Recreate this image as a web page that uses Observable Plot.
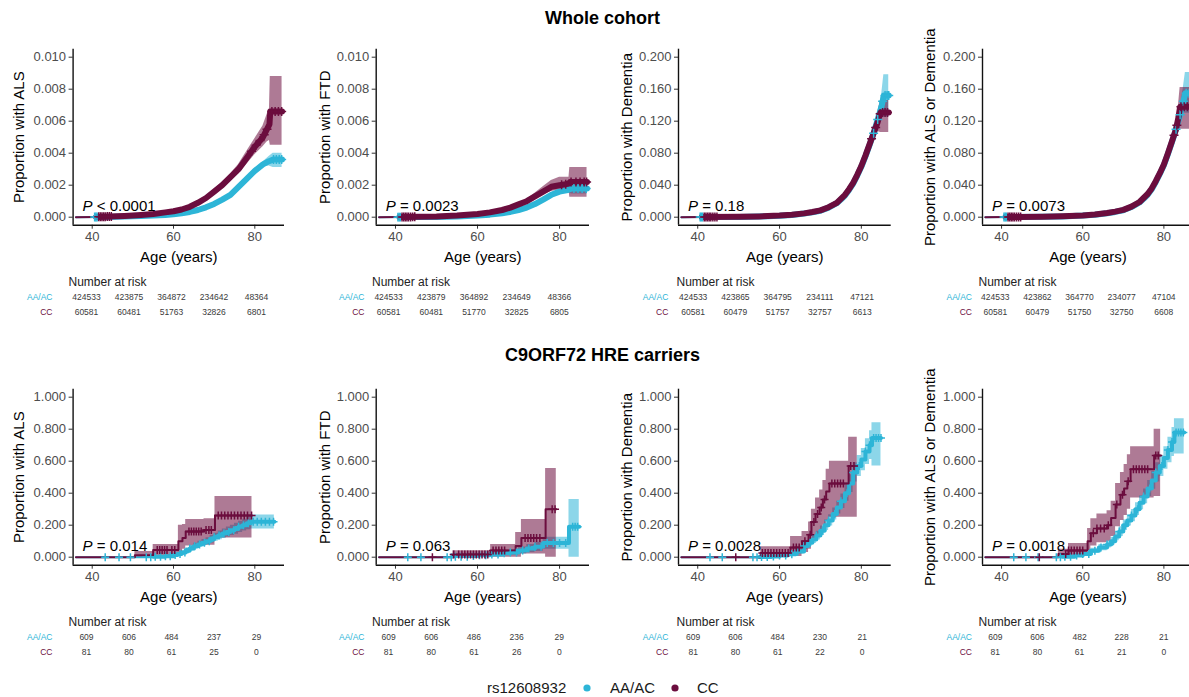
<!DOCTYPE html>
<html><head><meta charset="utf-8">
<script src="https://cdn.jsdelivr.net/npm/d3@7"></script>
<script src="https://cdn.jsdelivr.net/npm/@observablehq/plot@0.6"></script>
<style>
html,body{margin:0;padding:0;background:#fff;}
body{width:1189px;height:697px;overflow:hidden;font-family:"Liberation Sans",Arial,Helvetica,sans-serif;}
#root{position:relative;width:1189px;height:697px;overflow:hidden;}
.abs{position:absolute;}
.panel{position:absolute;width:300px;}
.panel svg{max-width:none !important;}
.title{position:absolute;left:8px;width:1189px;text-align:center;font-weight:bold;font-size:18px;line-height:22px;color:#000;}
</style></head>
<body><div id="root"></div>
<script>
// ---------- DATA ----------
const groups = ["AA/AC", "CC"];
const riskAges = [40, 50, 60, 70, 80];
const rowTitles = ["Whole cohort", "C9ORF72 HRE carriers"];
const yLabels = ["Proportion with ALS", "Proportion with FTD", "Proportion with Dementia", "Proportion with ALS or Dementia"];
const xTicks = [40, 60, 80];
const yTicksSmall = [0, 0.002, 0.004, 0.006, 0.008, 0.010];
const yTicksDem = [0, 0.04, 0.08, 0.12, 0.16, 0.20];
const yTicksCarrier = [0, 0.2, 0.4, 0.6, 0.8, 1.0];
const pValues = ["< 0.0001", "= 0.0023", "= 0.18", "= 0.0073", "= 0.014", "= 0.063", "= 0.0028", "= 0.0018"];

// rows: [age, estimate, lower CI, upper CI]
const wALS_AA = [[36,0,0,0],[41,0.00001,0,0.00002],[44,0.00002,0.00001,0.00003],[48,0.00004,0.00002,0.00006],[52,0.00007,0.00005,0.00009],[55,0.0001,0.00008,0.00012],[58,0.00014,0.00011,0.00017],[60,0.00018,0.00015,0.00021],[62,0.00025,0.00021,0.00029],[64,0.00033,0.00029,0.00037],[66,0.00045,0.0004,0.0005],[68,0.00062,0.00056,0.00068],[70,0.00083,0.00076,0.0009],[72,0.0011,0.00102,0.00118],[74,0.0014,0.0013,0.0015],[76,0.0019,0.0018,0.002],[78,0.0024,0.0023,0.0025],[80,0.0029,0.00278,0.00302],[82,0.0033,0.00315,0.00345],[83.5,0.0035,0.0032,0.0038],[84.5,0.0036,0.0031,0.004],[86.7,0.0036,0.0031,0.004]];
const wALS_CC = [[36,0,0,0],[41,0.00002,0,0.00004],[44,0.00004,0.00001,0.00007],[48,0.00008,0.00004,0.00012],[52,0.00014,0.00009,0.00019],[55,0.0002,0.00014,0.00026],[58,0.0003,0.00023,0.00037],[60,0.00037,0.0003,0.00045],[62,0.00048,0.0004,0.00056],[64,0.00065,0.00055,0.00075],[66,0.0009,0.0008,0.001],[68,0.0012,0.0011,0.0013],[70,0.0016,0.00145,0.00175],[72,0.002,0.0018,0.0022],[74,0.0025,0.0023,0.0027],[76,0.003,0.0027,0.0033],[78,0.0037,0.0033,0.0041],[80,0.0044,0.0039,0.0049],[82,0.005,0.0044,0.0057],[83,0.0055,0.0047,0.0064],[83.6,0.0058,0.0048,0.0068],[83.8,0.0066,0.0045,0.0088],[86.7,0.0066,0.0045,0.0088]];
const wFTD_AA = [[36,0,0,0],[41,0.000005,0,0.00001],[50,0.00002,0.00001,0.00003],[55,0.00005,0.00003,0.00007],[60,0.0001,0.00008,0.00012],[63,0.00016,0.00013,0.00019],[66,0.00025,0.00021,0.00029],[68,0.00033,0.00029,0.00037],[70,0.00045,0.0004,0.0005],[72,0.0006,0.00054,0.00066],[74,0.00082,0.00075,0.00089],[76,0.0011,0.001,0.0012],[78,0.0014,0.0013,0.0015],[80,0.0016,0.00148,0.00172],[82,0.0017,0.00152,0.00188],[83,0.0018,0.00145,0.0021],[86.7,0.0018,0.00145,0.0021]];
const wFTD_CC = [[36,0,0,0],[41,0.00001,0,0.00002],[50,0.00004,0.00001,0.00007],[55,0.0001,0.00006,0.00014],[60,0.0002,0.00014,0.00026],[63,0.0003,0.00023,0.00037],[66,0.00045,0.00037,0.00053],[68,0.0006,0.0005,0.0007],[70,0.0008,0.0007,0.0009],[72,0.001,0.0009,0.0011],[74,0.0013,0.0011,0.0015],[76,0.0016,0.0014,0.0019],[78,0.0019,0.0016,0.0023],[80,0.002,0.0017,0.0025],[82.3,0.0021,0.0017,0.0025],[82.5,0.0022,0.00125,0.0031],[86.7,0.0022,0.00125,0.0031]];
const wDEM_AA = [[36,0,0,0],[41,0.0002,0.00015,0.00025],[50,0.0004,0.0003,0.0005],[55,0.0009,0.0008,0.001],[60,0.0018,0.0017,0.0019],[63,0.0028,0.0027,0.0029],[66,0.0045,0.0043,0.0047],[68,0.006,0.0058,0.0062],[70,0.008,0.0078,0.0082],[72,0.012,0.0117,0.0123],[74,0.0175,0.0171,0.0179],[75,0.022,0.0215,0.0225],[76,0.027,0.0264,0.0276],[77,0.034,0.0333,0.0347],[78,0.042,0.0411,0.0429],[79,0.052,0.0508,0.0532],[80,0.063,0.0615,0.0645],[81,0.076,0.074,0.078],[82,0.09,0.087,0.093],[83,0.105,0.101,0.109],[84,0.122,0.115,0.129],[85,0.14,0.127,0.155],[85.5,0.152,0.125,0.178],[86.7,0.152,0.125,0.178]];
const wDEM_CC = [[36,0,0,0],[41,0.0002,0.0001,0.0003],[50,0.0005,0.0003,0.0007],[55,0.001,0.0007,0.0013],[60,0.002,0.0016,0.0024],[63,0.003,0.0026,0.0034],[66,0.0048,0.0043,0.0053],[68,0.0065,0.006,0.007],[70,0.0085,0.008,0.009],[72,0.0125,0.0118,0.0132],[74,0.018,0.017,0.019],[75,0.023,0.0218,0.0242],[76,0.028,0.0265,0.0295],[77,0.035,0.033,0.037],[78,0.043,0.0405,0.0455],[79,0.053,0.05,0.056],[80,0.064,0.06,0.068],[81,0.077,0.072,0.082],[82,0.091,0.085,0.097],[83,0.105,0.097,0.113],[84,0.119,0.107,0.131],[84.7,0.131,0.106,0.146],[86.7,0.131,0.106,0.146]];
const wAD_AA = [[36,0,0,0],[41,0.0002,0.00015,0.00025],[50,0.0005,0.0004,0.0006],[55,0.001,0.0009,0.0011],[60,0.002,0.0019,0.0021],[63,0.0031,0.003,0.0032],[66,0.0049,0.0047,0.0051],[68,0.0066,0.0064,0.0068],[70,0.0087,0.0085,0.0089],[72,0.0127,0.0124,0.013],[74,0.0185,0.0181,0.0189],[75,0.023,0.0225,0.0235],[76,0.028,0.0274,0.0286],[77,0.035,0.0343,0.0357],[78,0.044,0.0431,0.0449],[79,0.054,0.0528,0.0552],[80,0.065,0.0635,0.0665],[81,0.079,0.077,0.081],[82,0.094,0.091,0.097],[83,0.11,0.106,0.114],[84,0.128,0.121,0.135],[84.8,0.145,0.13,0.162],[85.3,0.155,0.13,0.181],[86.7,0.155,0.13,0.181]];
const wAD_CC = [[36,0,0,0],[41,0.0002,0.0001,0.0003],[50,0.0006,0.0004,0.0008],[55,0.0012,0.0009,0.0015],[60,0.0022,0.0018,0.0026],[63,0.0033,0.0029,0.0037],[66,0.0052,0.0047,0.0057],[68,0.007,0.0065,0.0075],[70,0.0092,0.0087,0.0097],[72,0.0132,0.0125,0.0139],[74,0.019,0.018,0.02],[75,0.024,0.0228,0.0252],[76,0.029,0.0275,0.0305],[77,0.036,0.034,0.038],[78,0.045,0.0425,0.0475],[79,0.055,0.052,0.058],[80,0.066,0.062,0.07],[81,0.08,0.075,0.085],[82,0.095,0.089,0.101],[83,0.11,0.102,0.118],[83.6,0.125,0.112,0.14],[84,0.138,0.11,0.162],[86.7,0.138,0.11,0.162]];

const cALS_AA = [[36,0,0,0],[55,0.003,0,0.008],[58,0.006,0,0.013],[60,0.013,0.004,0.022],[61,0.02,0.009,0.031],[62,0.03,0.017,0.043],[63,0.042,0.027,0.057],[64,0.055,0.038,0.072],[65,0.068,0.049,0.087],[66,0.08,0.06,0.1],[67,0.09,0.069,0.111],[68,0.1,0.078,0.122],[69,0.112,0.088,0.136],[70,0.124,0.099,0.149],[71,0.136,0.109,0.163],[72,0.148,0.119,0.177],[73,0.158,0.127,0.189],[74,0.168,0.136,0.2],[75,0.178,0.144,0.212],[76,0.19,0.155,0.225],[77,0.2,0.163,0.237],[78,0.212,0.172,0.252],[79,0.222,0.176,0.264],[84.8,0.222,0.176,0.264]];
const cALS_CC = [[36,0,0,0],[50.5,0.012,0,0.036],[55,0.045,0.006,0.08],[61.2,0.1,0.03,0.2],[62.2,0.12,0.05,0.205],[63,0.16,0.07,0.235],[67.5,0.17,0.075,0.24],[70.2,0.26,0.12,0.38],[79.3,0.26,0.12,0.38]];
const cFTD_AA = [[36,0,0,0],[54,0.003,0,0.008],[58,0.008,0,0.017],[60,0.012,0.002,0.022],[63,0.017,0.005,0.029],[66,0.025,0.01,0.04],[68,0.03,0.013,0.047],[70,0.042,0.02,0.064],[72,0.055,0.03,0.08],[74,0.065,0.036,0.094],[76,0.088,0.05,0.125],[82.3,0.19,0,0.36],[84.8,0.19,0,0.36]];
const cFTD_CC = [[36,0,0,0],[54,0.017,0,0.04],[63.2,0.042,0,0.08],[69.3,0.07,0,0.155],[70.7,0.12,0.02,0.235],[76.6,0.3,0,0.555],[79.2,0.3,0,0.555]];
const cDEM_AA = [[36,0,0,0],[55,0.002,0,0.006],[58,0.005,0,0.011],[60,0.01,0.003,0.017],[62,0.018,0.008,0.028],[64,0.035,0.02,0.05],[66,0.07,0.05,0.09],[67,0.09,0.068,0.112],[68,0.11,0.085,0.135],[69,0.135,0.108,0.162],[70,0.165,0.135,0.195],[71,0.2,0.167,0.233],[72,0.23,0.195,0.265],[73,0.27,0.232,0.308],[74,0.31,0.27,0.35],[75,0.35,0.305,0.395],[76,0.4,0.35,0.45],[77,0.46,0.405,0.515],[78,0.53,0.47,0.59],[79,0.57,0.505,0.635],[80,0.61,0.54,0.68],[81,0.66,0.58,0.74],[82,0.7,0.61,0.79],[82.6,0.745,0.57,0.84],[84.8,0.745,0.57,0.84]];
const cDEM_CC = [[36,0,0,0],[55.4,0.027,0,0.065],[62.7,0.06,0.005,0.13],[65.5,0.1,0.03,0.16],[67.1,0.14,0.05,0.22],[67.8,0.22,0.1,0.3],[68.8,0.27,0.13,0.37],[69.8,0.31,0.16,0.42],[70.6,0.36,0.2,0.48],[71.4,0.41,0.23,0.55],[72.2,0.46,0.25,0.6],[76.9,0.57,0.25,0.75],[79,0.57,0.25,0.75]];
const cAD_AA = [[36,0,0,0],[55,0.003,0,0.008],[58,0.01,0.002,0.018],[60,0.02,0.008,0.032],[62,0.04,0.024,0.056],[64,0.06,0.041,0.079],[66,0.08,0.058,0.102],[67,0.1,0.076,0.124],[68,0.13,0.103,0.157],[69,0.16,0.13,0.19],[70,0.2,0.167,0.233],[71,0.23,0.195,0.265],[72,0.26,0.222,0.298],[73,0.3,0.26,0.34],[74,0.34,0.297,0.383],[75,0.38,0.334,0.426],[76,0.43,0.38,0.48],[77,0.48,0.425,0.535],[78,0.53,0.47,0.59],[79,0.57,0.505,0.635],[80,0.62,0.55,0.69],[81,0.67,0.59,0.75],[82,0.72,0.63,0.81],[82.6,0.78,0.645,0.865],[85,0.78,0.645,0.865]];
const cAD_CC = [[36,0,0,0],[54,0.02,0,0.05],[56.5,0.042,0.005,0.085],[61.2,0.1,0.04,0.18],[62,0.15,0.07,0.24],[63.5,0.18,0.09,0.27],[66,0.2,0.1,0.29],[67,0.245,0.13,0.35],[68.1,0.33,0.19,0.46],[69.3,0.39,0.23,0.53],[70.2,0.43,0.26,0.58],[71,0.475,0.3,0.64],[71.8,0.55,0.37,0.69],[77.6,0.635,0.38,0.8],[79.2,0.635,0.38,0.8]];

// censoring ages
const wALS_AAc = [40.6, 40.9, 41.2, 84.6, 85.3, 86.0, 86.6];
const wALS_CCc = [41.6, 42.0, 42.4, 42.8, 43.2, 43.7, 44.2, 44.7, 79.2, 80.3, 81.3, 82.3, 83.0, 84.2, 85.0, 85.8, 86.6];
const wFTD_AAc = [40.6, 40.9, 41.2, 83.5, 84.5, 85.5, 86.5];
const wFTD_CCc = [41.6, 42.0, 42.4, 42.8, 43.2, 43.7, 44.2, 44.7, 80.5, 81.5, 82.8, 84.0, 85.0, 86.0, 86.6];
const wDEM_AAc = [40.6, 40.9, 41.2, 83.0, 84.0, 85.2, 85.8, 86.3, 86.7];
const wDEM_CCc = [41.6, 42.0, 42.4, 42.8, 43.2, 43.7, 44.2, 44.7, 82.5, 83.5, 84.6, 85.2, 85.8, 86.4];
const wAD_AAc = [40.6, 40.9, 41.2, 83.0, 84.0, 84.8, 85.5, 86.2];
const wAD_CCc = [41.6, 42.0, 42.4, 42.8, 43.2, 43.7, 44.2, 44.7, 82.5, 83.2, 84.2, 85.0, 85.8];
const cALS_AAc = [43.2, 46.6, 49.4, 53.3, 54.4, 55.5, 56.8, 58.0, 59.2, 60.4, 61.6, 62.8, 64.0, 65.2, 66.4, 67.6, 68.8, 70.0, 71.2, 72.4, 73.6, 74.8, 76.0, 77.2, 78.4, 79.6, 80.6, 81.6, 82.6, 83.6, 84.6];
const cALS_CCc = [56.0, 56.6, 57.2, 57.8, 58.4, 59.6, 60.3, 63.8, 64.4, 65.0, 65.6, 66.2, 66.8, 68.0, 68.7, 69.3, 71.0, 71.8, 72.6, 73.4, 74.2, 75.0, 75.8, 76.6, 77.4, 78.2, 79.2];
const cFTD_AAc = [43.0, 46.2, 52.6, 53.6, 54.6, 56.0, 57.5, 59.0, 60.5, 62.0, 63.5, 65.0, 66.5, 68.0, 69.5, 71.0, 72.5, 74.0, 75.5, 77.0, 78.5, 80.0, 81.5, 83.2, 83.8, 84.4];
const cFTD_CCc = [49.0, 54.2, 55.4, 56.2, 56.9, 57.6, 58.3, 59.0, 59.7, 60.4, 61.1, 61.8, 62.5, 63.8, 64.5, 65.2, 65.9, 66.6, 71.6, 72.3, 73.0, 73.7, 74.4, 75.2, 78.2, 78.9];
const cDEM_AAc = [43.0, 46.0, 53.5, 54.5, 55.6, 57.0, 58.5, 60.0, 61.5, 63.0, 64.5, 66.0, 67.5, 69.0, 70.5, 72.0, 73.5, 75.0, 76.5, 78.0, 79.5, 81.0, 82.0, 83.0, 83.6, 84.2, 84.8];
const cDEM_CCc = [49.3, 55.8, 56.5, 57.2, 57.9, 58.6, 59.3, 60.0, 60.7, 61.4, 62.1, 63.4, 64.1, 64.8, 66.2, 67.5, 68.4, 69.3, 70.2, 71.0, 72.8, 73.5, 74.2, 74.9, 75.6, 77.4, 78.2];
const cAD_AAc = [43.0, 46.0, 49.0, 53.5, 54.5, 55.6, 57.0, 58.5, 60.0, 61.5, 63.0, 64.5, 66.0, 67.5, 69.0, 70.5, 72.0, 73.5, 75.0, 76.5, 78.0, 79.5, 81.0, 82.0, 83.0, 83.6, 84.2, 84.8];
const cAD_CCc = [49.3, 55.8, 56.5, 57.2, 57.9, 58.6, 59.3, 60.0, 62.6, 63.5, 64.4, 65.3, 66.3, 68.4, 69.8, 71.2, 72.5, 73.2, 73.9, 74.6, 75.3, 76.0, 78.0, 78.6];

// numbers at risk at riskAges
const riskAA = [[424533,423875,364872,234642,48364],[424533,423879,364892,234649,48366],[424533,423865,364795,234111,47121],[424533,423862,364770,234077,47104],[609,606,484,237,29],[609,606,486,236,29],[609,606,484,230,21],[609,606,482,228,21]];
const riskCC = [[60581,60481,51763,32826,6801],[60581,60481,51770,32825,6805],[60581,60479,51757,32757,6613],[60581,60479,51750,32750,6608],[81,80,61,25,0],[81,80,61,26,0],[81,80,61,22,0],[81,80,61,21,0]];

// ---------- STYLE / LAYOUT ----------
const colors = ["#2DB5D7", "#6B0D3E"];
const FONT = '"Liberation Sans", Arial, Helvetica, sans-serif';
const xDomain = [35.3, 87.3];
const colLayout = [
  {left: 0,   ml: 72.6, mr: 16,  yLabDx: -53.5, pDx: 9.5, riskML: 66,   riskMR: 13,  rowLabDx: -14, nrDx: 2},
  {left: 300, ml: 75.7, mr: 11,  yLabDx: -51,   pDx: 9.5, riskML: 68,   riskMR: 10,  rowLabDx: -4,  nrDx: 3.5},
  {left: 600, ml: 78,   mr: 9.3, yLabDx: -51.5, pDx: 9.5, riskML: 72.8, riskMR: 7.5, rowLabDx: -5,  nrDx: 3.2},
  {left: 900, ml: 82,   mr: 7,   yLabDx: -52.5, pDx: 9.5, riskML: 75,   riskMR: 6,   rowLabDx: -3.5, nrDx: 3}
];
const rowTop = [0, 340];

const panels = [
  {aa: wALS_AA, cc: wALS_CC, aac: wALS_AAc, ccc: wALS_CCc, ticks: yTicksSmall},
  {aa: wFTD_AA, cc: wFTD_CC, aac: wFTD_AAc, ccc: wFTD_CCc, ticks: yTicksSmall},
  {aa: wDEM_AA, cc: wDEM_CC, aac: wDEM_AAc, ccc: wDEM_CCc, ticks: yTicksDem},
  {aa: wAD_AA,  cc: wAD_CC,  aac: wAD_AAc,  ccc: wAD_CCc,  ticks: yTicksDem},
  {aa: cALS_AA, cc: cALS_CC, aac: cALS_AAc, ccc: cALS_CCc, ticks: yTicksCarrier},
  {aa: cFTD_AA, cc: cFTD_CC, aac: cFTD_AAc, ccc: cFTD_CCc, ticks: yTicksCarrier},
  {aa: cDEM_AA, cc: cDEM_CC, aac: cDEM_AAc, ccc: cDEM_CCc, ticks: yTicksCarrier},
  {aa: cAD_AA,  cc: cAD_CC,  aac: cAD_AAc,  ccc: cAD_CCc,  ticks: yTicksCarrier}
];

const toRows = arr => arr.map(([age, est, lo, hi]) => ({age, est, lo, hi}));
const bis = d3.bisector(d => d.age).right;
function onLinear(rows, a) {
  const i = bis(rows, a);
  if (i <= 0) return rows[0].est;
  if (i >= rows.length) return rows[rows.length - 1].est;
  const p = rows[i - 1], q = rows[i];
  return p.est + (q.est - p.est) * (a - p.age) / (q.age - p.age);
}
function onStep(rows, a) { return rows[Math.max(0, bis(rows, a) - 1)].est; }

const root = document.getElementById("root");
const NS = "http://www.w3.org/2000/svg";

panels.forEach((P, k) => {
  const row = k < 4 ? 0 : 1, col = k % 4;
  const L = colLayout[col];
  const whole = row === 0;
  const yMax = P.ticks[P.ticks.length - 1];
  const yDomain = [-0.05 * yMax, 1.05 * yMax];
  const curve = whole ? "linear" : "step-after";
  const series = [
    {g: 0, rows: toRows(P.aa), cens: P.aac},
    {g: 1, rows: toRows(P.cc), cens: P.ccc}
  ];
  const marks = [];
  series.forEach(s => marks.push(Plot.areaY(s.rows, {x: "age", y1: "lo", y2: "hi", curve, fill: colors[s.g], fillOpacity: 0.55})));
  series.forEach(s => {
    marks.push(Plot.line(s.rows, {x: "age", y: "est", curve, stroke: colors[s.g], strokeWidth: 2}));
    if (whole) {
      marks.push(Plot.line(s.rows.filter(d => d.age >= 41), {x: "age", y: "est", curve, stroke: colors[s.g], strokeWidth: 6, strokeLinejoin: "round", strokeLinecap: "round"}));
    } else if (s.g === 0) {
      marks.push(Plot.line(s.rows.filter(d => d.age >= 55), {x: "age", y: "est", curve, stroke: colors[s.g], strokeWidth: 4}));
    }
  });
  series.forEach(s => {
    const pts = s.cens.map(a => ({age: a, est: whole ? onLinear(s.rows, a) : onStep(s.rows, a)}));
    marks.push(Plot.dot(pts, {x: "age", y: "est", symbol: "plus", r: whole ? 3 : 2.7, stroke: colors[s.g], strokeWidth: 1.5}));
  });
  marks.push(
    Plot.axisY({ticks: P.ticks, tickFormat: d3.format(".3f"), tickSize: 4, tickPadding: 3, fontSize: 13, fill: "#4d4d4d", stroke: "#333", label: null}),
    Plot.axisX({ticks: xTicks, tickSize: 4, tickPadding: 3, fontSize: 13, fill: "#4d4d4d", stroke: "#333", label: null}),
    Plot.ruleX([xDomain[0]], {stroke: "#111", strokeWidth: 1.4}),
    Plot.ruleY([yDomain[0]], {stroke: "#111", strokeWidth: 1.4}),
    Plot.text([yLabels[col]], {text: d => d, frameAnchor: "left", dx: L.yLabDx, rotate: -90, textAnchor: "middle", lineAnchor: "middle", fontSize: 15, fill: "#000"}),
    Plot.text(["Age (years)"], {text: d => d, frameAnchor: "bottom", dy: 32, textAnchor: "middle", lineAnchor: "middle", fontSize: 15, fill: "#000"}),
    Plot.text(["P " + pValues[k]], {text: d => d, frameAnchor: "bottom-left", dx: L.pDx, dy: -14, textAnchor: "start", lineAnchor: "bottom", fontSize: 15, fill: "#000"})
  );
  const svg = Plot.plot({
    width: 300, height: 270,
    marginLeft: L.ml, marginRight: L.mr, marginTop: 48.7, marginBottom: 45.3,
    x: {domain: xDomain},
    y: {domain: yDomain},
    style: {fontFamily: FONT, background: "transparent", overflow: "visible", maxWidth: "none", width: "300px", height: "270px"},
    marks
  });
  svg.querySelectorAll("text").forEach(t => {
    if (/^P [<=] /.test(t.textContent)) {
      const rest = t.textContent.slice(1);
      t.textContent = "";
      const a = document.createElementNS(NS, "tspan");
      a.setAttribute("font-style", "italic");
      a.textContent = "P";
      const b = document.createElementNS(NS, "tspan");
      b.textContent = rest;
      t.append(a, b);
    }
  });
  const box = document.createElement("div");
  box.className = "panel";
  box.style.left = L.left + "px";
  box.style.top = rowTop[row] + "px";
  box.appendChild(svg);
  root.appendChild(box);

  // risk table
  const riskRows = [];
  riskAges.forEach((a, i) => {
    riskRows.push({age: a, group: groups[0], n: riskAA[k][i]});
    riskRows.push({age: a, group: groups[1], n: riskCC[k][i]});
  });
  const rsvg = Plot.plot({
    width: 300, height: 60,
    marginLeft: L.riskML, marginRight: L.riskMR, marginTop: 0, marginBottom: 0,
    x: {domain: xDomain, axis: null},
    y: {type: "point", domain: groups, range: [27, 42.5], padding: 0, axis: null},
    style: {fontFamily: FONT, background: "transparent", overflow: "visible", maxWidth: "none", width: "300px", height: "60px"},
    marks: [
      Plot.text(["Number at risk"], {text: d => d, frameAnchor: "top-left", dx: L.nrDx, dy: 12, lineAnchor: "middle", textAnchor: "start", fontSize: 12, fill: "#222"}),
      Plot.text([groups[0]], {y: d => d, text: d => d, frameAnchor: "left", dx: L.rowLabDx, textAnchor: "end", fontSize: 8.5, fill: colors[0]}),
      Plot.text([groups[1]], {y: d => d, text: d => d, frameAnchor: "left", dx: L.rowLabDx, textAnchor: "end", fontSize: 8.5, fill: colors[1]}),
      Plot.text(riskRows, {x: "age", y: "group", text: d => String(d.n), fontSize: 8.5, fill: "#3a3a3a"})
    ]
  });
  const rbox = document.createElement("div");
  rbox.className = "panel";
  rbox.style.left = L.left + "px";
  rbox.style.top = (rowTop[row] + 270) + "px";
  rbox.appendChild(rsvg);
  root.appendChild(rbox);
});

// titles
rowTitles.forEach((t, i) => {
  const d = document.createElement("div");
  d.className = "title";
  d.style.top = (i === 0 ? 7 : 344) + "px";
  d.textContent = t;
  root.appendChild(d);
});

// legend
const leg = document.createElement("div");
leg.className = "abs";
leg.style.cssText = "left:0;top:677px;width:1189px;height:22px;font-size:15px;line-height:22px;color:#1a1a1a;";
leg.innerHTML =
  '<span class="abs" style="left:487px;top:0">rs12608932</span>' +
  '<svg class="abs" style="left:583px;top:7px" width="8" height="8"><circle cx="4" cy="4" r="3.6" fill="' + colors[0] + '"/></svg>' +
  '<span class="abs" style="left:610px;top:0">' + groups[0] + '</span>' +
  '<svg class="abs" style="left:671px;top:7px" width="8" height="8"><circle cx="4" cy="4" r="3.6" fill="' + colors[1] + '"/></svg>' +
  '<span class="abs" style="left:697px;top:0">' + groups[1] + '</span>';
root.appendChild(leg);
</script>
</body></html>
